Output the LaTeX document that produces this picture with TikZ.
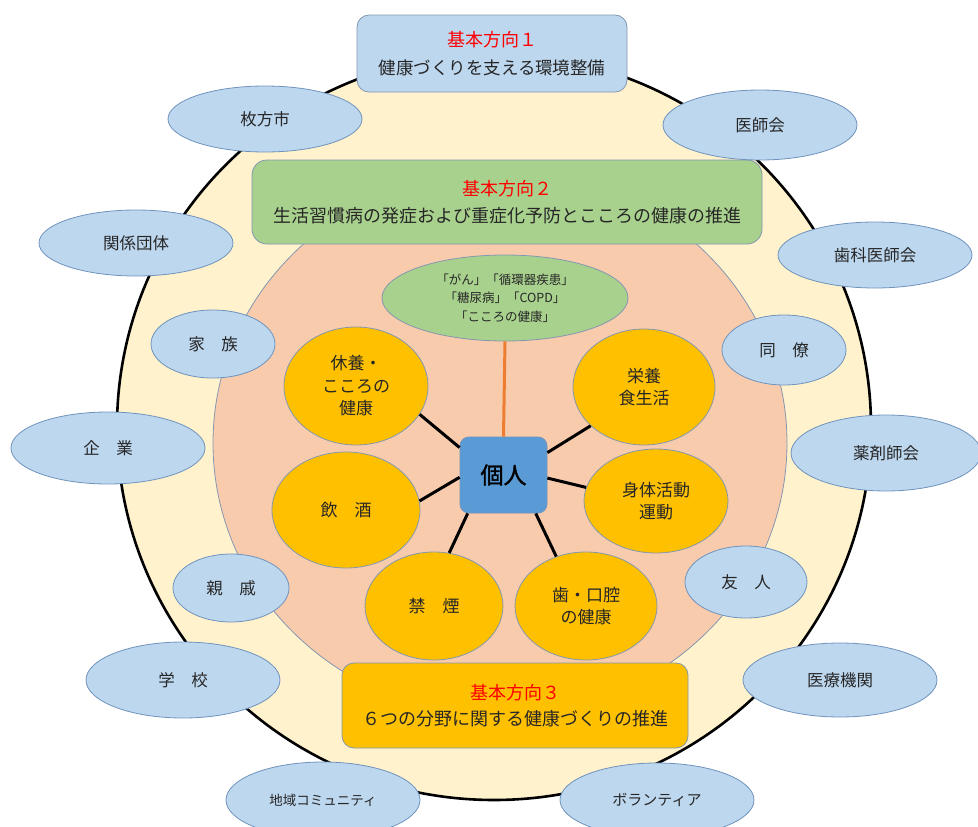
\documentclass[tikz,border=0pt]{standalone}
\usepackage{fontspec}
\setmainfont{Noto Sans CJK JP}
\newfontfamily\jpbold[FakeBold=1.5]{Noto Sans CJK JP}
\usetikzlibrary{shapes.geometric}
\definecolor{cream}{HTML}{FFF2CC}
\definecolor{salmon}{HTML}{F8CBAD}
\definecolor{lgreen}{HTML}{A9D18E}
\definecolor{orng}{HTML}{FFC000}
\definecolor{lblue}{HTML}{BDD7EE}
\definecolor{mblue}{HTML}{5B9BD5}
\definecolor{bordblue}{HTML}{6F93BD}
\definecolor{bordgray}{HTML}{8497B0}
\definecolor{txt}{HTML}{262626}
\definecolor{orline}{HTML}{ED7D31}
\definecolor{ttl}{HTML}{FF0000}
\tikzset{
  blob/.style={ellipse, draw=bordblue, fill=lblue, line width=0.8pt, inner sep=0pt,
    font=\fontsize{16.5}{20}\selectfont, text=txt},
  field/.style={ellipse, draw=bordgray, fill=orng, line width=0.8pt, inner sep=0pt,
    align=center, font=\fontsize{17}{22.5}\selectfont, text=txt},
  dirbox/.style={rounded corners=12pt, draw=bordgray, line width=0.8pt, inner sep=0pt,
    align=center, text=txt},
  conn/.style={line width=3pt, black},
}
\begin{document}
\begin{tikzpicture}[x=1pt,y=-1pt]
\useasboundingbox (0,0) rectangle (978,827);
% background circles
\draw[fill=cream, line width=2.6pt] (494,427) ellipse [x radius=377pt, y radius=373pt];
\draw[fill=salmon, draw=bordgray, line width=0.8pt] (500,443) ellipse [x radius=287pt, y radius=273pt];

% direction boxes
\node[dirbox, fill=lblue, minimum width=270pt, minimum height=77pt,
  font=\fontsize{18}{28}\selectfont] (dir1) at (492,53.5)
  {{\color{ttl}基本方向１}\\{\fontsize{17.5}{28}\selectfont 健康づくりを支える環境整備}};
\node[dirbox, fill=lgreen, rounded corners=15pt, minimum width=510pt, minimum height=84pt,
  font=\fontsize{18}{27}\selectfont] (dir2) at (507,202)
  {{\color{ttl}基本方向２}\\生活習慣病の発症および重症化予防とこころの健康の推進};
\node[dirbox, fill=orng, minimum width=346pt, minimum height=85pt,
  font=\fontsize{18}{25.5}\selectfont] (dir3) at (515,705.5)
  {{\color{ttl}基本方向３}\\６つの分野に関する健康づくりの推進};

% green ellipse
\node[ellipse, draw=bordgray, fill=lgreen, line width=0.8pt, inner sep=0pt,
  minimum width=246pt, minimum height=86pt, align=center, text=txt,
  font=\fontsize{12.5}{18.5}\selectfont] (disease) at (505,298)
  {「がん」「循環器疾患」\\「糖尿病」「COPD」\\「こころの健康」};

% individual
\node[rounded corners=9pt, draw=bordblue, fill=mblue, line width=0.8pt, inner sep=0pt,
  minimum width=87pt, minimum height=76pt, font=\jpbold\fontsize{23}{26}\selectfont,
  text=black] (kojin) at (503.5,475) {個人};

% six fields
\node[field, minimum width=144pt, minimum height=118pt] (kyuyo) at (356,386) {休養・\\こころの\\健康};
\node[field, minimum width=142pt, minimum height=116pt] (eiyo) at (644,387) {栄養\\食生活};
\node[field, minimum width=148pt, minimum height=116pt] (inshu) at (346,510) {飲　酒};
\node[field, minimum width=144pt, minimum height=104pt] (shintai) at (656,501) {身体活動\\運動};
\node[field, minimum width=138pt, minimum height=108pt] (kinen) at (434,606) {禁　煙};
\node[field, minimum width=142pt, minimum height=108pt] (shiko) at (586,606) {歯・口腔\\の健康};

% connectors
\draw[line width=3pt, orline] (disease.south) -- (kojin.north);
\draw[conn] (kojin.148) -- (kyuyo.-24);
\draw[conn] (kojin.27) -- (eiyo.216);
\draw[conn] (kojin.183) -- (inshu.7);
\draw[conn] (kojin.-4) -- (shintai.169);
\draw[conn] (kojin.227) -- (kinen.74);
\draw[conn] (kojin.-50) -- (shiko.121);

% surrounding ellipses
\node[blob, minimum width=194pt, minimum height=66pt] (hirakata) at (265,119) {枚方市};
\node[blob, minimum width=194pt, minimum height=66pt] (kankei) at (136,243) {関係団体};
\node[blob, minimum width=124pt, minimum height=68pt] (kazoku) at (213,344) {家　族};
\node[blob, minimum width=194pt, minimum height=72pt] (kigyo) at (108,448) {企　業};
\node[blob, minimum width=116pt, minimum height=68pt] (shinseki) at (231,588) {親　戚};
\node[blob, minimum width=194pt, minimum height=76pt] (gakko) at (183,680) {学　校};
\node[blob, minimum width=194pt, minimum height=76pt, font=\fontsize{13.5}{16}\selectfont] (chiiki) at (323,800) {地域コミュニティ};
\node[blob, minimum width=194pt, minimum height=70pt] (ishikai) at (760,125) {医師会};
\node[blob, minimum width=194pt, minimum height=66pt] (shika) at (875,255) {歯科医師会};
\node[blob, minimum width=124pt, minimum height=70pt] (doryo) at (784,350) {同　僚};
\node[blob, minimum width=190pt, minimum height=76pt] (yakuzai) at (886,453) {薬剤師会};
\node[blob, minimum width=122pt, minimum height=72pt] (yujin) at (746,582) {友　人};
\node[blob, minimum width=194pt, minimum height=74pt] (iryo) at (840,680) {医療機関};
\node[blob, minimum width=194pt, minimum height=74pt, font=\fontsize{15}{18}\selectfont] (volunteer) at (657,800) {ボランティア};
\end{tikzpicture}
\end{document}
